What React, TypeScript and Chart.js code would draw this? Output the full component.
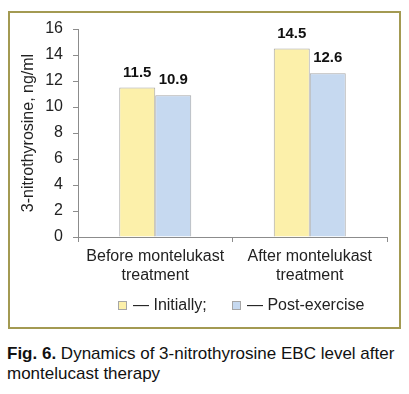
import React, { useEffect, useRef } from "react";
import { Chart, registerables } from "chart.js";

Chart.register(...registerables);

const categories: string[][] = [
  ["Before montelukast", "treatment"],
  ["After montelukast", "treatment"],
];
const seriesNames = ["— Initially;", "— Post-exercise"];
const initially = [11.5, 14.5];
const postExercise = [10.9, 12.6];
const yTitle = "3-nitrothyrosine, ng/ml";
const colors = ["#fcf0aa", "#c6d9f0"];

const FONT = "'Liberation Sans', Arial, sans-serif";

const valueLabels = {
  id: "valueLabels",
  afterDatasetsDraw(chart: any) {
    const ctx = chart.ctx;
    ctx.save();
    ctx.font = `bold 15px ${FONT}`;
    ctx.fillStyle = "#111";
    ctx.textAlign = "center";
    ctx.textBaseline = "middle";
    chart.data.datasets.forEach((ds: any, i: number) => {
      const meta = chart.getDatasetMeta(i);
      meta.data.forEach((bar: any, j: number) => {
        ctx.fillText(String(ds.data[j].toFixed(1)), bar.x, bar.y - 15);
      });
    });
    ctx.restore();
  },
};

export default function App() {
  const ref = useRef<HTMLCanvasElement>(null);
  useEffect(() => {
    if (!ref.current) return;
    const chart = new Chart(ref.current, {
      type: "bar",
      data: {
        labels: categories,
        datasets: [
          {
            label: seriesNames[0],
            data: initially,
            backgroundColor: colors[0],
            borderColor: "#a6a6a6",
            borderWidth: 1,
          },
          {
            label: seriesNames[1],
            data: postExercise,
            backgroundColor: colors[1],
            borderColor: "#a6a6a6",
            borderWidth: 1,
          },
        ],
      },
      options: {
        responsive: false,
        animation: false,
        devicePixelRatio: 1,
        layout: { padding: { left: 9, right: 22, top: 29, bottom: 0 } },
        datasets: {
          bar: { categoryPercentage: 0.466, barPercentage: 1 },
        },
        plugins: {
          legend: { display: false },
          tooltip: { enabled: false },
        },
        scales: {
          x: {
            grid: {
              display: true,
              drawOnChartArea: false,
              offset: true,
              tickLength: 5,
              color: "#8c8c8c",
            },
            border: { color: "#8c8c8c" },
            ticks: {
              color: "#222",
              font: { family: FONT, size: 16 },
              padding: 5,
              maxRotation: 0,
            },
            afterFit(scale: any) {
              scale.height = 103;
            },
          },
          y: {
            min: 0,
            max: 16,
            ticks: {
              stepSize: 2,
              color: "#222",
              font: { family: FONT, size: 16 },
              padding: 10,
            },
            grid: {
              display: true,
              drawOnChartArea: false,
              tickLength: 5,
              color: "#8c8c8c",
            },
            border: { color: "#8c8c8c" },
            title: {
              display: true,
              text: yTitle,
              color: "#222",
              font: { family: FONT, size: 16 },
              padding: { top: 10, bottom: 0 },
            },
            afterFit(scale: any) {
              scale.width = 69;
            },
          },
        },
      },
      plugins: [valueLabels],
    });
    return () => chart.destroy();
  }, []);

  const legendItem = (color: string, text: string, left: number) => (
    <div
      style={{
        position: "absolute",
        left,
        top: 296,
        height: 18,
        display: "flex",
        alignItems: "center",
        fontFamily: FONT,
        fontSize: 16,
        color: "#222",
        whiteSpace: "nowrap",
      }}
    >
      <span
        style={{
          display: "inline-block",
          width: 7,
          height: 7,
          background: color,
          border: "1px solid #a6a6a6",
          marginRight: 6,
        }}
      />
      {text}
    </div>
  );

  return (
    <div
      style={{
        position: "absolute",
        left: 0,
        top: 0,
        width: 409,
        height: 394,
        background: "#fff",
        overflow: "hidden",
      }}
    >
      <div
        style={{
          position: "absolute",
          left: 8,
          top: 11,
          width: 393,
          height: 318,
          border: "2px solid #a39a52",
          boxSizing: "border-box",
        }}
      />
      <canvas
        ref={ref}
        width={409}
        height={340}
        style={{ position: "absolute", left: 0, top: 0, width: 409, height: 340 }}
      />
      {legendItem(colors[0], seriesNames[0], 118)}
      {legendItem(colors[1], seriesNames[1], 232)}
      <div
        style={{
          position: "absolute",
          left: 7,
          top: 344,
          width: 402,
          fontFamily: FONT,
          fontSize: 17,
          lineHeight: "20px",
          color: "#111",
        }}
      >
        <b>Fig. 6.</b> Dynamics of 3-nitrothyrosine EBC level after montelucast therapy
      </div>
    </div>
  );
}
